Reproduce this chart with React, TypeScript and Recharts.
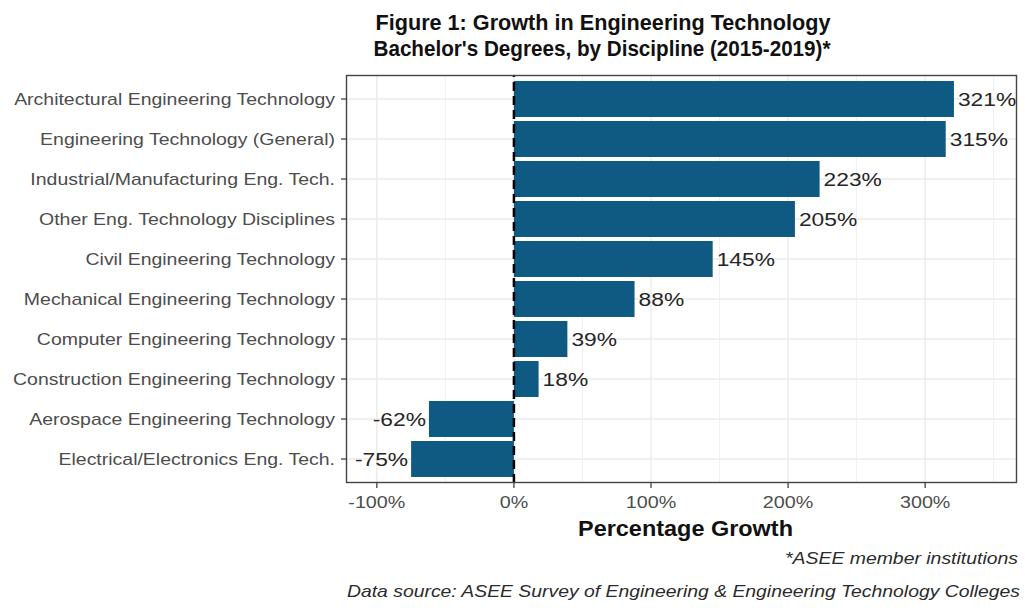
import { Bar, BarChart, LabelList, ReferenceLine, XAxis, YAxis } from "recharts"

const FONT = "'Liberation Sans', Arial, Helvetica, sans-serif"

// top to bottom, as in the figure
const disciplines = [
    "Architectural Engineering Technology",
    "Engineering Technology (General)",
    "Industrial/Manufacturing Eng. Tech.",
    "Other Eng. Technology Disciplines",
    "Civil Engineering Technology",
    "Mechanical Engineering Technology",
    "Computer Engineering Technology",
    "Construction Engineering Technology",
    "Aerospace Engineering Technology",
    "Electrical/Electronics Eng. Tech.",
]
const growth = [321, 315, 223, 205, 145, 88, 39, 18, -62, -75]

const xTicks = [-100, 0, 100, 200, 300]
const xMinorTicks = [-50, 50, 150, 250, 350]

const data = disciplines.map((name, i) => ({ name, value: growth[i] }))

const BAR_COLOR = "#0f5a83"
const GRID = "#ebebeb"

function DisciplineTick({ x, y, payload }: any) {
    return (
        <text
            transform={`translate(${x},${y}) scale(1.145,1)`}
            textAnchor="end"
            dy="0.36em"
            fontSize={17}
            fontFamily={FONT}
            fill="#4d4d4d"
        >
            {payload.value}
        </text>
    )
}

function PercentTick({ x, y, payload }: any) {
    return (
        <text
            transform={`translate(${x},${y}) scale(1.16,1)`}
            textAnchor="middle"
            dy="0.71em"
            fontSize={17}
            fontFamily={FONT}
            fill="#4d4d4d"
        >
            {`${payload.value}%`}
        </text>
    )
}

function ValueLabel(props: any) {
    const vb = props.viewBox ?? props
    const { x, y, width, height } = vb
    const value = Number(props.value)
    const end = value >= 0 ? Math.max(x, x + width) : Math.min(x, x + width)
    const tx = value >= 0 ? end + 4 : end - 3
    return (
        <text
            transform={`translate(${tx},${y + height / 2}) scale(1.2,1)`}
            textAnchor={value >= 0 ? "start" : "end"}
            dy="0.36em"
            fontSize={19}
            fontFamily={FONT}
            fill="#262626"
        >
            {`${value}%`}
        </text>
    )
}

export default function App() {
    return (
        <div style={{ position: "absolute", left: 0, top: 0, width: 1025, height: 608, background: "#fff" }}>
            <BarChart
                width={1025}
                height={608}
                data={data}
                layout="vertical"
                margin={{ top: 75, right: 8, bottom: 95, left: 0 }}
            >
                {xMinorTicks.map((v) => (
                    <ReferenceLine key={`mn${v}`} x={v} stroke={GRID} strokeWidth={0.8} zIndex={-100} />
                ))}
                {xTicks.map((v) => (
                    <ReferenceLine key={`mj${v}`} x={v} stroke={GRID} strokeWidth={1.4} zIndex={-100} />
                ))}
                {disciplines.map((d) => (
                    <ReferenceLine key={`h${d}`} y={d} stroke={GRID} strokeWidth={1.4} zIndex={-100} />
                ))}
                <XAxis
                    type="number"
                    domain={[-122.5, 367]}
                    allowDataOverflow
                    ticks={xTicks}
                    axisLine={false}
                    tickLine={{ stroke: "#333", strokeWidth: 1.2 }}
                    tickSize={5}
                    tickMargin={8}
                    tick={<PercentTick />}
                    height={30}
                />
                <YAxis
                    type="category"
                    dataKey="name"
                    width={346}
                    padding={{ top: 4, bottom: 4 }}
                    axisLine={false}
                    tickLine={{ stroke: "#333", strokeWidth: 1.2 }}
                    tickSize={5}
                    tickMargin={6}
                    tick={<DisciplineTick />}
                    interval={0}
                />
                <Bar dataKey="value" fill={BAR_COLOR} barSize={36} isAnimationActive={false}>
                    <LabelList dataKey="value" content={<ValueLabel />} />
                </Bar>
                <ReferenceLine x={0} stroke="#000" strokeWidth={2.5} strokeDasharray="9 5" zIndex={1000} />
            </BarChart>
            <svg
                width={1025}
                height={608}
                style={{ position: "absolute", left: 0, top: 0, pointerEvents: "none" }}
                fontFamily={FONT}
            >
                <rect x={346.5} y={75.5} width={670} height={407} fill="none" stroke="#444" strokeWidth={1.4} />
                <text x={603} y={30} textAnchor="middle" fontSize={22.5} fontWeight="bold" fill="#111" textLength={455} lengthAdjust="spacingAndGlyphs">
                    Figure 1: Growth in Engineering Technology
                </text>
                <text x={602} y={56} textAnchor="middle" fontSize={22.5} fontWeight="bold" fill="#111" textLength={457} lengthAdjust="spacingAndGlyphs">
                    Bachelor's Degrees, by Discipline (2015-2019)*
                </text>
                <text x={685.5} y={535.5} textAnchor="middle" fontSize={21.5} fontWeight="bold" fill="#111" textLength={215} lengthAdjust="spacingAndGlyphs">
                    Percentage Growth
                </text>
                <text x={1018} y={564} textAnchor="end" fontSize={17} fontStyle="italic" fill="#2b2b2b" textLength={233} lengthAdjust="spacingAndGlyphs">
                    *ASEE member institutions
                </text>
                <text x={1020} y={597} textAnchor="end" fontSize={17} fontStyle="italic" fill="#2b2b2b" textLength={673} lengthAdjust="spacingAndGlyphs">
                    Data source: ASEE Survey of Engineering &amp; Engineering Technology Colleges
                </text>
            </svg>
        </div>
    )
}
